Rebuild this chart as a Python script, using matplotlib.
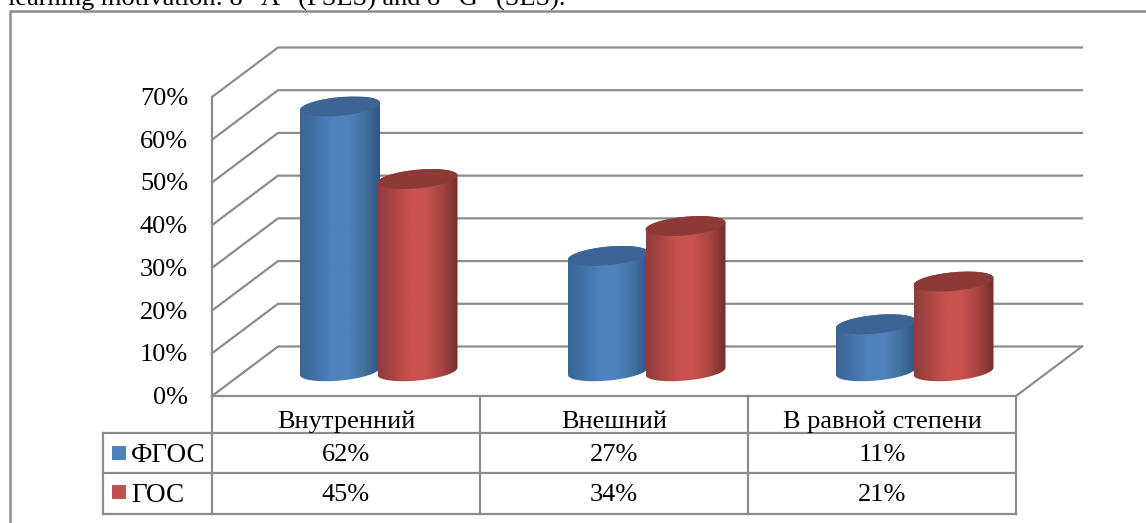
import numpy as np
import matplotlib
matplotlib.use('Agg')
from matplotlib import pyplot as plt
from matplotlib.colors import LinearSegmentedColormap
from matplotlib.patches import Polygon, Rectangle

plt.rcParams['font.family'] = ['Liberation Serif', 'DejaVu Serif']

categories = ['Внутренний', 'Внешний', 'В равной степени']
series_names = ['ФГОС', 'ГОС']
fgos = [0.62, 0.27, 0.11]
gos = [0.45, 0.34, 0.21]
fgos_labels = ['62%', '27%', '11%']
gos_labels = ['45%', '34%', '21%']
y_ticks = [0, 0.1, 0.2, 0.3, 0.4, 0.5, 0.6, 0.7]
y_labels = ['0%', '10%', '20%', '30%', '40%', '50%', '60%', '70%']

W, H = 1146, 523
GRID = '#8c8c8c'

fig = plt.figure(figsize=(W / 100, H / 100), dpi=100)

# full page overlay in pixels, for frame and table
page = fig.add_axes([0, 0, 1, 1], zorder=3)
page.set_xlim(0, W)
page.set_ylim(H, 0)
page.axis('off')

# chart axes = the front plane of the 3d box
left, right, top, bottom = 212, 1016, 97, 396
ax = fig.add_axes([left / W, 1 - bottom / H, (right - left) / W, (bottom - top) / H], zorder=2)
ax.axis('off')
xlim = (0, 3)
ylim = (0, 0.7)
px = 3 / (right - left)
py = 0.7 / (bottom - top)

depth_x, depth_y = 66 * px, 49.5 * py


def grid_line(v):
    ax.plot([0, depth_x, 3 + depth_x], [v, v + depth_y, v + depth_y],
            color=GRID, lw=1.6, clip_on=False, zorder=1, solid_joinstyle='miter')


for v in y_ticks:
    grid_line(v)
    ax.text(-24 * px, v - 2 * py, y_labels[y_ticks.index(v)], ha='right', va='center', fontsize=19, color='black')

# floor front edge and right side, left wall edge
ax.plot([0, 3, 3 + depth_x], [0, 0, depth_y], color=GRID, lw=1.6, clip_on=False, zorder=1)
ax.plot([0, 0], [0, 0.7], color=GRID, lw=1.6, clip_on=False, zorder=1)


def cylinder(xc, value, cmap, top_color, z):
    a = 40 * px
    b = 9.3 * py
    tilt = 0.09 * 40 * py
    base = depth_y / 2
    t = np.linspace(0, 2 * np.pi, 120)
    ex = xc + a * np.cos(t)
    ey = b * np.sin(t) + tilt * np.cos(t)
    # lower half of the ellipse, then upper half of the top one
    t2 = np.linspace(np.pi, 2 * np.pi, 60)
    bx = xc + a * np.cos(t2)
    by = base + b * np.sin(t2) + tilt * np.cos(t2)
    t3 = np.linspace(0, np.pi, 60)
    ux = xc + a * np.cos(t3)
    uy = base + value + b * np.sin(t3) + tilt * np.cos(t3)
    body = Polygon(np.column_stack([np.r_[bx, ux], np.r_[by, uy]]), closed=True,
                   transform=ax.transData, fc='none', ec='none')
    ax.add_patch(body)
    grad = np.linspace(0, 1, 256).reshape(1, -1)
    im = ax.imshow(grad, cmap=cmap, extent=(xc - a, xc + a, 0, 0.8), aspect='auto', zorder=z, clip_on=True)
    im.set_clip_path(body)
    ax.fill(ex, base + value + ey, color=top_color, lw=0, zorder=z + 0.5, clip_on=False)


blue_map = LinearSegmentedColormap.from_list('b', ['#3a6496', '#4272aa', '#4f81bd', '#4f81bd', '#44739f', '#2f5584'])
red_map = LinearSegmentedColormap.from_list('r', ['#8f3d3b', '#ad4643', '#c8524e', '#c8524e', '#a64543', '#732e2c'])

for i in range(len(categories)):
    mid = i + 0.5 + depth_x / 2
    cylinder(mid - 39 * px, fgos[i], blue_map, '#3c6595', 3 + i)
    cylinder(mid + 38.5 * px, gos[i], red_map, '#8c3a38', 3.7 + i)

ax.set_xlim(*xlim)
ax.set_ylim(*ylim)

# table below the chart
lw_t = 1.6
col_x = [212, 480, 748, 1016]
row_y = [433, 473, 514]
for x in col_x:
    page.plot([x, x], [396, row_y[-1]], color=GRID, lw=lw_t)
page.plot([103, 1016], [row_y[0], row_y[0]], color=GRID, lw=lw_t)
page.plot([103, 1016], [row_y[1], row_y[1]], color=GRID, lw=lw_t)
page.plot([103, 1016], [row_y[2], row_y[2]], color=GRID, lw=lw_t)
page.plot([103, 103], [row_y[0], row_y[2]], color=GRID, lw=lw_t)

for i, cat in enumerate(categories):
    xm = (col_x[i] + col_x[i + 1]) / 2
    page.text(xm, 422, cat, ha='center', va='center', fontsize=19)
    page.text(xm, 455, fgos_labels[i], ha='center', va='center', fontsize=19)
    page.text(xm, 495, gos_labels[i], ha='center', va='center', fontsize=19)

page.add_patch(Rectangle((112, 446), 14, 14, fc='#4f81bd', ec='none'))
page.add_patch(Rectangle((112, 485), 14, 14, fc='#c0504d', ec='none'))
page.text(131, 455, series_names[0], ha='left', va='center', fontsize=19.5)
page.text(131, 495, series_names[1], ha='left', va='center', fontsize=19.5)

# outer frame and the cut off caption line above it
page.plot([10, 10, W], [H, 11, 11], color=GRID, lw=1.8)
page.text(8, 6, 'learning motivation: 8 “A” (FSES) and 8 “G” (SES).', ha='left', va='baseline',
          fontsize=19, clip_on=True)

fig.savefig('out.png', dpi=100)
